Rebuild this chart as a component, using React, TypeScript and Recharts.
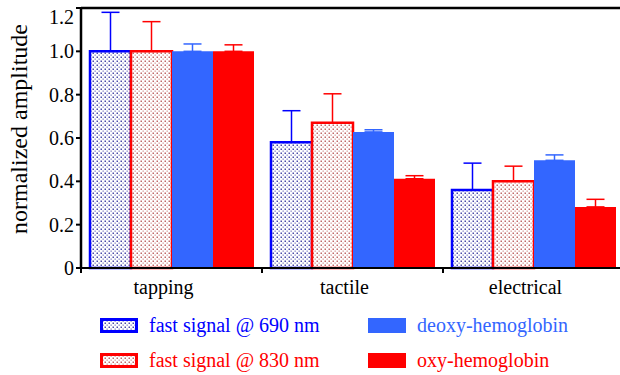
import React from 'react';
import { BarChart, Bar, XAxis, YAxis, ErrorBar, ReferenceLine } from 'recharts';

const categories = ['tapping', 'tactile', 'electrical'];
const fast690 = [1.0, 0.58, 0.36];
const fast690Err = [0.18, 0.146, 0.124];
const fast830 = [1.0, 0.67, 0.4];
const fast830Err = [0.137, 0.134, 0.07];
const deoxy = [1.0, 0.628, 0.497];
const deoxyErr = [0.034, 0.01, 0.025];
const oxy = [1.0, 0.412, 0.282];
const oxyErr = [0.03, 0.014, 0.035];
const yTicks = [0, 0.2, 0.4, 0.6, 0.8, 1.0, 1.2];

const data = categories.map((name, i) => ({
    name,
    pos: i + 0.5,
    f690: fast690[i],
    f690Err: [0, fast690Err[i]],
    f830: fast830[i],
    f830Err: [0, fast830Err[i]],
    deoxy: deoxy[i],
    deoxyErr: [0, deoxyErr[i]],
    oxy: oxy[i],
    oxyErr: [0, oxyErr[i]],
}));

const BLUE = '#0000ff';
const LIGHT_BLUE = '#3366ff';
const RED = '#ff0000';
const FONT = 'Liberation Serif, DejaVu Serif, serif';

function DotPattern({ id, dot }: { id: string; dot: string }) {
    return (
        <pattern id={id} width={4} height={4} patternUnits="userSpaceOnUse">
            <rect width={4} height={4} fill="#fff" />
            <rect x={0.5} y={0.5} width={1.5} height={1.5} fill={dot} />
            <rect x={2.5} y={2.5} width={1.3} height={1.3} fill={dot} opacity={0.7} />
        </pattern>
    );
}

// category labels between the integer boundaries, tick marks at the boundaries
function CatTick(props: any) {
    const { x, y, payload } = props;
    const v = payload.value;
    if (Number.isInteger(v)) {
        return <line x1={x} x2={x} y1={y - 5} y2={y} stroke="#000" strokeWidth={2} />;
    }
    const label = categories[Math.floor(v)];
    return (
        <text x={x - 8} y={y + 21} textAnchor="middle" style={{ fontFamily: FONT, fontSize: 20 }} fill="#000">
            {label}
        </text>
    );
}

function YTick(props: any) {
    const { x, y, payload } = props;
    const v = payload.value;
    const shift = v >= 1.2 ? 9 : 0;
    return (
        <text
            x={x}
            y={y + shift}
            textAnchor="end"
            dominantBaseline="central"
            style={{ fontFamily: FONT, fontSize: 20 }}
            fill="#000"
        >
            {v === 0 ? '0' : v.toFixed(1)}
        </text>
    );
}

const legendItems = [
    { name: 'fast signal @ 690 nm', color: BLUE, pattern: '#4a4aa8', col: 0, row: 0 },
    { name: 'fast signal @ 830 nm', color: RED, pattern: '#c06868', col: 0, row: 1 },
    { name: 'deoxy-hemoglobin', color: LIGHT_BLUE, pattern: null, col: 1, row: 0 },
    { name: 'oxy-hemoglobin', color: RED, pattern: null, col: 1, row: 1 },
];

function LegendSwatch({ item, idx }: { item: any; idx: number }) {
    return (
        <svg width={38} height={15} style={{ display: 'block' }}>
            {item.pattern ? (
                <>
                    <defs>
                        <DotPattern id={`lg${idx}`} dot={item.pattern} />
                    </defs>
                    <rect x={1.5} y={1.5} width={35} height={12} fill={`url(#lg${idx})`} stroke={item.color} strokeWidth={3} />
                </>
            ) : (
                <rect x={0} y={0} width={38} height={15} fill={item.color} />
            )}
        </svg>
    );
}

export default function App() {
    return (
        <div
            style={{
                position: 'fixed',
                left: 0,
                top: 0,
                width: 620,
                height: 375,
                overflow: 'hidden',
                background: '#fff',
                fontFamily: FONT,
            }}
        >
            <BarChart
                width={630}
                height={300}
                data={data}
                margin={{ top: 8, right: 6, left: 0, bottom: 0 }}
                barCategoryGap={9}
                barGap={0}
            >
                <defs>
                    <DotPattern id="dotsBlue" dot="#4a4aa8" />
                    <DotPattern id="dotsRed" dot="#c06868" />
                </defs>
                <XAxis xAxisId="cat" dataKey="name" hide height={0} />
                <XAxis
                    xAxisId="num"
                    dataKey="pos"
                    type="number"
                    domain={[0, 3]}
                    allowDataOverflow
                    ticks={[0, 0.5, 1, 1.5, 2, 2.5, 3]}
                    interval={0}
                    tick={<CatTick />}
                    tickLine={false}
                    tickSize={5}
                    tickMargin={0}
                    axisLine={{ stroke: '#000', strokeWidth: 2 }}
                    height={32}
                />
                <YAxis
                    domain={[0, 1.2]}
                    ticks={yTicks}
                    interval={0}
                    width={81}
                    tick={<YTick />}
                    tickSize={5}
                    tickMargin={2}
                    tickLine={{ stroke: '#000', strokeWidth: 2 }}
                    axisLine={{ stroke: '#000', strokeWidth: 2.5 }}
                    label={({ viewBox }: any) => {
                        const cx = viewBox.x + 19;
                        const cy = viewBox.y + viewBox.height / 2 - 9;
                        return (
                            <text
                                x={cx}
                                y={cy}
                                transform={`rotate(-90, ${cx}, ${cy})`}
                                textAnchor="middle"
                                dominantBaseline="central"
                                style={{ fontFamily: FONT, fontSize: 24 }}
                                fill="#000"
                            >
                                normalized amplitude
                            </text>
                        );
                    }}
                />
                <ReferenceLine xAxisId="cat" y={1.2} stroke="#000" strokeWidth={2.5} />
                <Bar xAxisId="cat" dataKey="f690" fill="url(#dotsBlue)" stroke={BLUE} strokeWidth={2.5} isAnimationActive={false}>
                    <ErrorBar dataKey="f690Err" width={9} stroke={BLUE} strokeWidth={1.5} direction="y" />
                </Bar>
                <Bar xAxisId="cat" dataKey="f830" fill="url(#dotsRed)" stroke={RED} strokeWidth={2.5} isAnimationActive={false}>
                    <ErrorBar dataKey="f830Err" width={9} stroke={RED} strokeWidth={1.5} direction="y" />
                </Bar>
                <Bar xAxisId="cat" dataKey="deoxy" fill={LIGHT_BLUE} isAnimationActive={false}>
                    <ErrorBar dataKey="deoxyErr" width={9} stroke={LIGHT_BLUE} strokeWidth={1.5} direction="y" />
                </Bar>
                <Bar xAxisId="cat" dataKey="oxy" fill={RED} isAnimationActive={false}>
                    <ErrorBar dataKey="oxyErr" width={9} stroke={RED} strokeWidth={1.5} direction="y" />
                </Bar>
            </BarChart>
            {legendItems.map((item, i) => (
                <div
                    key={item.name}
                    style={{
                        position: 'absolute',
                        left: item.col === 0 ? 100 : 368,
                        top: item.row === 0 ? 312 : 347,
                        height: 26,
                        display: 'flex',
                        alignItems: 'center',
                        whiteSpace: 'nowrap',
                    }}
                >
                    <LegendSwatch item={item} idx={i} />
                    <span style={{ marginLeft: 11, fontSize: 20, color: item.color, lineHeight: '26px' }}>
                        {item.name}
                    </span>
                </div>
            ))}
        </div>
    );
}
